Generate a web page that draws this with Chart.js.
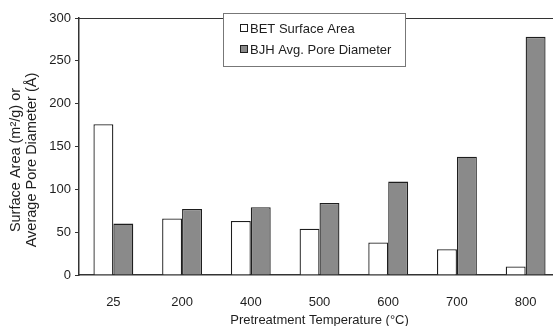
<!DOCTYPE html>
<html>
<head>
<meta charset="utf-8">
<script src="https://cdn.jsdelivr.net/npm/chart.js@4/dist/chart.umd.min.js"></script>
<style>
  html, body { margin: 0; padding: 0; background: #fff; overflow: hidden; }
  #wrap { width: 566px; height: 328px; }
</style>
</head>
<body>
<div id="wrap"><canvas id="poreChart"></canvas></div>
<script>
  const temperatures = ["25", "200", "400", "500", "600", "700", "800"];
  const betSurfaceArea = [176, 66, 63, 54, 38, 30, 10];
  const bjhPoreDiameter = [60, 77, 79, 84, 109, 138, 278];
  const yTicks = [0, 50, 100, 150, 200, 250, 300];

  const ink = "#1e1e1e";
  const fontFamily = "'Liberation Sans', Arial, sans-serif";
  const font = { family: fontFamily, size: 13 };

  // boxed legend sitting over the top frame line, plus the two-line y title
  const decorations = {
    id: "decorations",
    afterDraw(chart) {
      const { ctx, chartArea } = chart;
      ctx.save();

      // top frame line
      ctx.strokeStyle = "#333";
      ctx.lineWidth = 1;
      ctx.beginPath();
      ctx.moveTo(chartArea.left, chartArea.top + 0.5);
      ctx.lineTo(chartArea.right, chartArea.top + 0.5);
      ctx.stroke();

      // legend box
      const box = { x: 223.5, y: 13.5, w: 182, h: 53 };
      ctx.fillStyle = "#fff";
      ctx.fillRect(box.x, box.y, box.w, box.h);
      ctx.strokeStyle = "#777";
      ctx.strokeRect(box.x, box.y, box.w, box.h);

      ctx.font = `${font.size}px ${fontFamily}`;
      ctx.textBaseline = "middle";
      ctx.textAlign = "left";
      const rows = [28, 49];
      chart.data.datasets.forEach((ds, i) => {
        ctx.fillStyle = ds.backgroundColor;
        ctx.fillRect(240.5, rows[i] - 3.5, 7, 7);
        ctx.strokeStyle = ink;
        ctx.strokeRect(240.5, rows[i] - 3.5, 7, 7);
        ctx.fillStyle = ink;
        ctx.fillText(ds.label, 250, rows[i] + 1);
      });

      // y axis title
      ctx.font = `14.5px ${fontFamily}`;
      ctx.translate(0, 160);
      ctx.rotate(-Math.PI / 2);
      ctx.textAlign = "center";
      ctx.fillText("Surface Area (m²/g) or", 0, 16);
      ctx.fillText("Average Pore Diameter (Å)", 0, 32);
      ctx.restore();
    }
  };

  new Chart(document.getElementById("poreChart"), {
    type: "bar",
    data: {
      labels: temperatures,
      datasets: [
        {
          label: "BET Surface Area",
          data: betSurfaceArea,
          backgroundColor: "#ffffff",
          borderColor: ink,
          borderWidth: 1.3
        },
        {
          label: "BJH Avg. Pore Diameter",
          data: bjhPoreDiameter,
          backgroundColor: "#8a8a8a",
          borderColor: ink,
          borderWidth: 1.3
        }
      ]
    },
    options: {
      responsive: true,
      maintainAspectRatio: false,
      animation: false,
      layout: { padding: { top: 18, right: 6, left: 0, bottom: 0 } },
      datasets: { bar: { barPercentage: 1, categoryPercentage: 0.58 } },
      plugins: { legend: { display: false }, tooltip: { enabled: false } },
      scales: {
        x: {
          grid: { display: false },
          border: { display: true, color: "#333", width: 1.5 },
          ticks: { color: ink, font, padding: 12, maxRotation: 0 },
          title: {
            display: true,
            text: "Pretreatment Temperature (°C)",
            color: ink,
            font,
            padding: { top: 4, bottom: 0 }
          },
          afterFit(scale) { scale.height = 53; }
        },
        y: {
          min: 0,
          max: 300,
          afterBuildTicks(scale) { scale.ticks = yTicks.map((v) => ({ value: v })); },
          grid: { display: true, drawOnChartArea: false, drawTicks: true, tickLength: 4, color: "#333" },
          border: { display: true, color: "#333", width: 1.5 },
          ticks: { color: ink, font, padding: 4 },
          afterFit(scale) { scale.width = 79; }
        }
      }
    },
    plugins: [decorations]
  });
</script>
</body>
</html>
